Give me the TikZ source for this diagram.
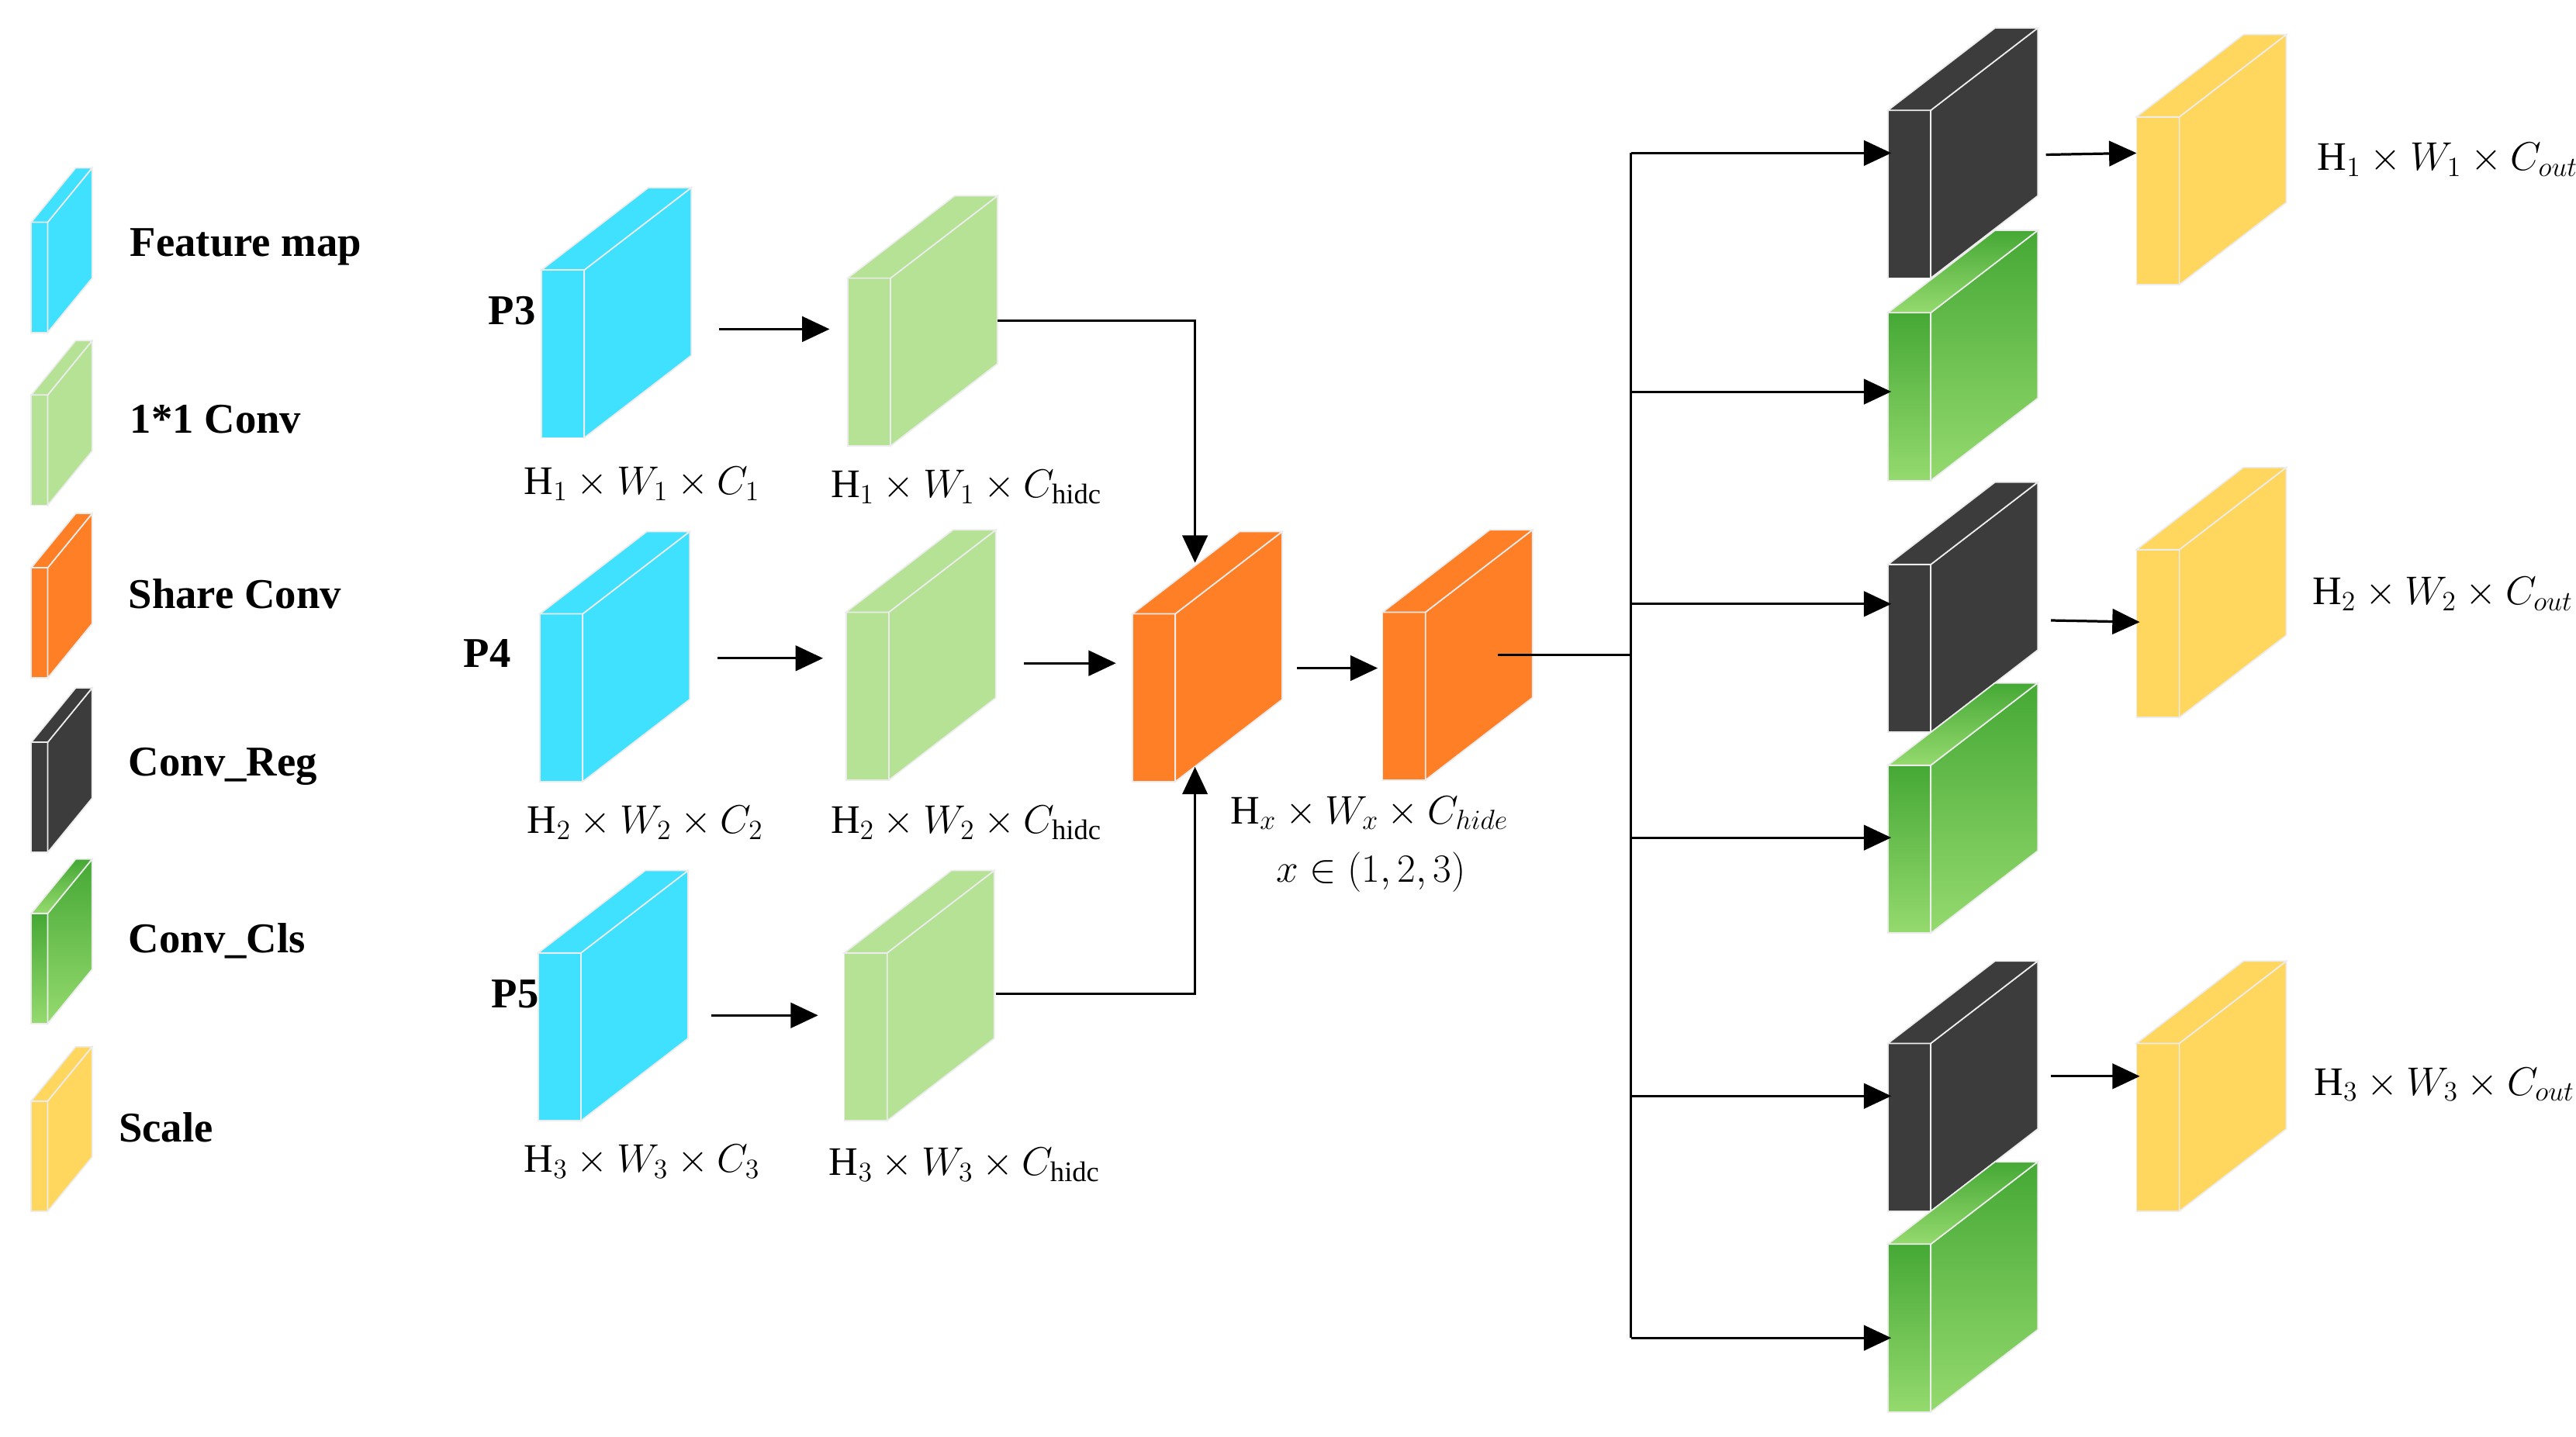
\documentclass[tikz,border=0pt]{standalone}
\usepackage{fontspec}
\setmainfont{Liberation Serif}
\usetikzlibrary{arrows.meta}
\definecolor{cfeat}{HTML}{40E0FF}
\definecolor{cconv}{HTML}{B5E295}
\definecolor{cshare}{HTML}{FF7F27}
\definecolor{creg}{HTML}{3C3C3C}
\definecolor{cclsT}{HTML}{45A835}
\definecolor{cclsB}{HTML}{95DA6E}
\definecolor{cscale}{HTML}{FFD75E}
\newcommand\myblock[8]{%
  \path[#8] (#2,#3) rectangle ++(#4,#5);
  \path[#8] (#2+#4,#3) -- ++(#6,-#7) -- ++(0,#5) -- ++(-#6,#7) -- cycle;
  \path[#8] (#2,#3) -- ++(#4,0) -- ++(#6,-#7) -- ++(-#4,0) -- cycle;
  \coordinate (#1) at (#2,#3);}
\newcommand\bigblk[4]{\myblock{#1}{#2}{#3}{26}{102}{65}{50}{#4}}
\newcommand\legblk[4]{\myblock{#1}{#2}{#3}{10}{67}{27}{33}{#4}}
\tikzset{
  edge/.style={draw=white!85!gray,line width=0.7pt},
  feat/.style={edge,fill=cfeat},
  conv/.style={edge,fill=cconv},
  share/.style={edge,fill=cshare},
  reg/.style={edge,fill=creg},
  cls/.style={edge,top color=cclsT,bottom color=cclsB},
  scl/.style={edge,fill=cscale},
  arr/.style={line width=1.3pt,-{Triangle[length=0.5cm,width=0.46cm]}},
  ln/.style={line width=1.2pt},
  leg/.style={anchor=west,font=\fontsize{22}{26}\selectfont\bfseries},
  plab/.style={font=\fontsize{22}{26}\selectfont\bfseries},
  dim/.style={font=\fontsize{21}{25}\selectfont},
}
\begin{document}
\begin{tikzpicture}[x=0.03cm,y=-0.03cm]
\useasboundingbox (0,0) rectangle (1565,873);
% legend
\legblk{l1}{19}{135}{feat}
\legblk{l2}{19}{240}{conv}
\legblk{l3}{19}{345}{share}
\legblk{l4}{19}{451}{reg}
\legblk{l5}{19}{555}{cls}
\legblk{l6}{19}{669}{scl}
\node[leg] (t1) at (75,150) {Feature map};
\node[leg] (t2) at (75,255) {1*1 Conv};
\node[leg] (t3) at (74,361) {Share Conv};
\node[leg] (t4) at (74,466) {Conv\_Reg};
\node[leg] (t5) at (74,572) {Conv\_Cls};
\node[leg] (t6) at (68,685) {Scale};
% feature maps
\bigblk{f3}{329}{164}{feat}
\bigblk{f4}{328}{373}{feat}
\bigblk{f5}{327}{579}{feat}
\bigblk{g3}{515}{169}{conv}
\bigblk{g4}{514}{372}{conv}
\bigblk{g5}{513}{579}{conv}
\bigblk{s1}{688}{373}{share}
\bigblk{s2}{840}{372}{share}
\bigblk{r1}{1147}{67}{reg}
\bigblk{c1}{1147}{190}{cls}
\bigblk{r2}{1147}{343}{reg}
\bigblk{c2}{1147}{465}{cls}
\bigblk{r3}{1147}{634}{reg}
\bigblk{c3}{1147}{756}{cls}
\bigblk{y1}{1298}{71}{scl}
\bigblk{y2}{1298}{334}{scl}
\bigblk{y3}{1298}{634}{scl}
% labels
\node[plab] (p3) at (311,189) {P3};
\node[plab] (p4) at (296,397) {P4};
\node[plab] (p5) at (313,604) {P5};
\node[dim] (d1) at (390,294) {$\mathrm{H}_1\times W_1\times C_1$};
\node[dim] (d2) at (392,500) {$\mathrm{H}_2\times W_2\times C_2$};
\node[dim] (d3) at (390,706) {$\mathrm{H}_3\times W_3\times C_3$};
\node[dim] (e1) at (587,296) {$\mathrm{H}_1\times W_1\times C_{\mathrm{hidc}}$};
\node[dim] (e2) at (587,500) {$\mathrm{H}_2\times W_2\times C_{\mathrm{hidc}}$};
\node[dim] (e3) at (586,708) {$\mathrm{H}_3\times W_3\times C_{\mathrm{hidc}}$};
\node[dim] (sx) at (832,494) {$\mathrm{H}_x\times W_x\times C_{hide}$};
\node[dim] (sr) at (833,530) {$x\in(1,2,3)$};
\node[dim] (o1) at (1487,97) {$\mathrm{H}_1\times W_1\times C_{out}$};
\node[dim] (o2) at (1484,361) {$\mathrm{H}_2\times W_2\times C_{out}$};
\node[dim] (o3) at (1485,659) {$\mathrm{H}_3\times W_3\times C_{out}$};
% connectors
\coordinate (a1s) at (437,200); \coordinate (a1e) at (504,200);
\coordinate (a2s) at (436,400); \coordinate (a2e) at (500,400);
\coordinate (a3s) at (432,617); \coordinate (a3e) at (497,617);
\coordinate (a4s) at (622,403); \coordinate (a4e) at (678,403);
\coordinate (a5s) at (788,406); \coordinate (a5e) at (837,406);
\draw[arr] (a1s) -- (a1e);
\draw[arr] (a2s) -- (a2e);
\draw[arr] (a3s) -- (a3e);
\draw[arr] (a4s) -- (a4e);
\draw[arr] (a5s) -- (a5e);
\coordinate (b1) at (606,195); \coordinate (b1t) at (726,342);
\coordinate (b2) at (605,604); \coordinate (b2t) at (726,466);
\draw[ln,-{Triangle[length=0.5cm,width=0.46cm]}] (b1) -| (b1t);
\draw[ln,-{Triangle[length=0.5cm,width=0.46cm]}] (b2) -| (b2t);
\coordinate (tr) at (910,398); \coordinate (tj) at (991,398);
\coordinate (ttop) at (991,93); \coordinate (tbot) at (991,813);
\draw[ln] (tr) -- (tj);
\draw[ln] (ttop) -- (tbot);
\foreach \yy/\nm in {93/h1,238/h2,367/h3,509/h4,666/h5,813/h6}{
  \coordinate (\nm s) at (991,\yy);
  \coordinate (\nm e) at (1149,\yy);
  \draw[ln,-{Triangle[length=0.5cm,width=0.46cm]}] (\nm s) -- (\nm e);
}
\coordinate (k1s) at (1243,94); \coordinate (k1e) at (1298,93);
\coordinate (k2s) at (1246,377); \coordinate (k2e) at (1300,378);
\coordinate (k3s) at (1246,654); \coordinate (k3e) at (1300,654);
\draw[arr] (k1s) -- (k1e);
\draw[arr] (k2s) -- (k2e);
\draw[arr] (k3s) -- (k3e);
\end{tikzpicture}
\end{document}
